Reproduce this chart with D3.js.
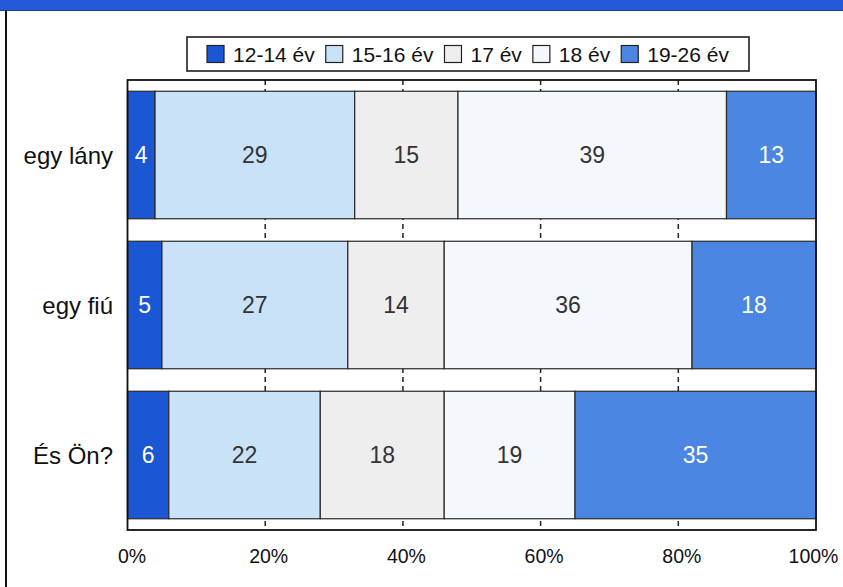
<!DOCTYPE html>
<html>
<head>
<meta charset="utf-8">
<script src="https://cdn.jsdelivr.net/npm/d3@7"></script>
<style>
  html, body { margin: 0; padding: 0; background: #ffffff; }
  svg { display: block; font-family: "Liberation Sans", Arial, Helvetica, sans-serif; }
</style>
</head>
<body>
<svg id="chart" width="843" height="587"></svg>
<script>
// Age groups (series) and respondent groups (categories)
const series = ["12-14 év", "15-16 év", "17 év", "18 év", "19-26 év"];
const categories = ["egy lány", "egy fiú", "És Ön?"];
// Percentages per category, in series order
const lanyValues = [4, 29, 15, 39, 13];
const fiuValues = [5, 27, 14, 36, 18];
const onValues = [6, 22, 18, 19, 35];
const tickValues = [0, 20, 40, 60, 80, 100];
const tickLabels = ["0%", "20%", "40%", "60%", "80%", "100%"];

const colors = ["#1b56d3", "#c9e2f7", "#eeeeee", "#f4f7fb", "#4a86e2"];
const labelColors = ["#ffffff", "#333333", "#333333", "#333333", "#ffffff"];

const rows = [lanyValues, fiuValues, onValues].map((vals, i) => {
  let acc = 0;
  return {
    category: categories[i],
    segments: vals.map((v, j) => {
      const s = { series: series[j], idx: j, x0: acc, x1: acc + v, value: v };
      acc += v;
      return s;
    })
  };
});

const svg = d3.select("#chart");

// Header band and left page rule
svg.append("rect").attr("x", 0).attr("y", 0).attr("width", 843).attr("height", 10).attr("fill", "#2259d6");
svg.append("line").attr("x1", 0).attr("x2", 843).attr("y1", 10.5).attr("y2", 10.5)
  .attr("stroke", "#1a3f99").attr("stroke-width", 1);
svg.append("line").attr("x1", 6).attr("x2", 6).attr("y1", 10).attr("y2", 587)
  .attr("stroke", "#111").attr("stroke-width", 2);

const plot = { left: 127.5, right: 816, top: 80, bottom: 530 };

const x = d3.scaleLinear().domain([0, 100]).range([plot.left, plot.right]);
const y = d3.scaleBand().domain(categories).range([plot.top, plot.bottom])
  .paddingInner(0.15).paddingOuter(0.075);

// Dashed grid lines
svg.append("g").selectAll("line")
  .data(tickValues.filter(t => t > 0 && t < 100))
  .join("line")
  .attr("x1", d => x(d)).attr("x2", d => x(d))
  .attr("y1", plot.top).attr("y2", plot.bottom)
  .attr("stroke", "#222").attr("stroke-width", 1.5)
  .attr("stroke-dasharray", "5,4");

// Stacked bars
const barG = svg.append("g").selectAll("g").data(rows).join("g")
  .attr("transform", d => `translate(0,${y(d.category)})`);

barG.selectAll("rect").data(d => d.segments).join("rect")
  .attr("x", d => x(d.x0)).attr("y", 0)
  .attr("width", d => x(d.x1) - x(d.x0))
  .attr("height", y.bandwidth())
  .attr("fill", d => colors[d.idx])
  .attr("stroke", "#2a2a2a").attr("stroke-width", 1.2);

barG.selectAll("text").data(d => d.segments).join("text")
  .attr("x", d => (x(d.x0) + x(d.x1)) / 2)
  .attr("y", y.bandwidth() / 2)
  .attr("dy", "0.36em")
  .attr("text-anchor", "middle")
  .attr("font-size", 23)
  .attr("fill", d => labelColors[d.idx])
  .text(d => d.value);

// Plot frame
svg.append("rect")
  .attr("x", plot.left).attr("y", plot.top)
  .attr("width", plot.right - plot.left).attr("height", plot.bottom - plot.top)
  .attr("fill", "none").attr("stroke", "#111").attr("stroke-width", 1.8);

// Category labels
svg.append("g").selectAll("text").data(categories).join("text")
  .attr("x", 113)
  .attr("y", d => y(d) + y.bandwidth() / 2)
  .attr("dy", "0.36em")
  .attr("text-anchor", "end")
  .attr("font-size", 24)
  .attr("fill", "#111")
  .text(d => d);

// Bottom axis labels
const axis = d3.axisBottom(x).tickValues(tickValues)
  .tickFormat((d, i) => tickLabels[i]).tickSize(0).tickPadding(0);
const axisG = svg.append("g").attr("transform", `translate(0,${plot.bottom})`).call(axis);
axisG.select(".domain").remove();
axisG.selectAll("text")
  .attr("y", 26).attr("dy", "0.36em")
  .attr("font-size", 19.5)
  .attr("font-family", "'Liberation Sans', Arial, sans-serif")
  .attr("fill", "#111")
  .attr("dx", (d, i) => i === 0 ? 4 : (i === tickValues.length - 1 ? -3 : 3));

// Legend box and items
svg.append("rect").attr("x", 187).attr("y", 37).attr("width", 562).attr("height", 34)
  .attr("fill", "#fff").attr("stroke", "#111").attr("stroke-width", 1.5);
const legend = svg.append("g");
const legendY = 54;
const sw = 17;
let lx = 0;
series.forEach((s, i) => {
  const g = legend.append("g").attr("transform", `translate(${lx},0)`);
  g.append("rect").attr("x", 0).attr("y", legendY - sw / 2).attr("width", sw).attr("height", sw)
    .attr("fill", colors[i]).attr("stroke", "#222").attr("stroke-width", 1.2);
  const t = g.append("text").attr("x", sw + 9).attr("y", legendY).attr("dy", "0.36em")
    .attr("font-size", 21).attr("fill", "#111").text(s);
  const w = t.node().getComputedTextLength();
  lx += sw + 9 + w + 11;
});
const totalW = lx - 11;
legend.attr("transform", `translate(${187 + 562 / 2 - totalW / 2},0)`);
</script>
</body>
</html>
